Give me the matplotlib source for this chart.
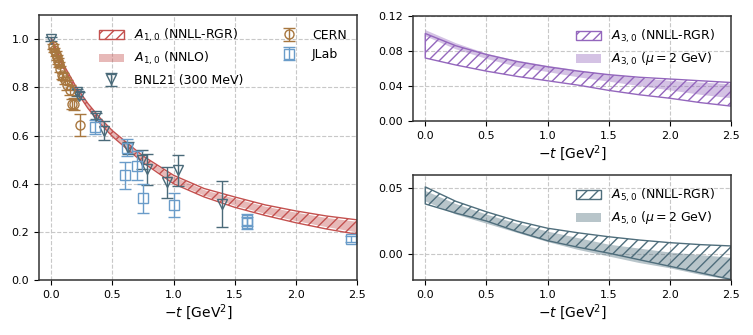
import numpy as np
import matplotlib
matplotlib.use("Agg")
import matplotlib.pyplot as plt

plt.rcParams['font.family'] = ['DejaVu Sans']
plt.rcParams['font.size'] = 8
plt.rcParams['hatch.linewidth'] = 1.0

# ---- band data ----
t_left = [0.0, 0.1, 0.2, 0.3, 0.4, 0.5, 0.75, 1.0, 1.25, 1.5, 1.75, 2.0, 2.25, 2.5]
a10_rgr_hi = [1.005, 0.895, 0.805, 0.733, 0.672, 0.620, 0.515, 0.435, 0.380, 0.345, 0.312, 0.287, 0.266, 0.250]
a10_rgr_lo = [0.995, 0.880, 0.788, 0.713, 0.650, 0.596, 0.488, 0.400, 0.345, 0.302, 0.268, 0.238, 0.212, 0.190]
a10_nnlo_hi = [1.003, 0.893, 0.803, 0.730, 0.669, 0.617, 0.511, 0.430, 0.374, 0.338, 0.305, 0.280, 0.258, 0.242]
a10_nnlo_lo = [0.997, 0.882, 0.790, 0.716, 0.653, 0.599, 0.492, 0.405, 0.351, 0.309, 0.275, 0.245, 0.220, 0.198]

t_right = [0.0, 0.25, 0.5, 0.75, 1.0, 1.25, 1.5, 1.75, 2.0, 2.25, 2.5]
a30_rgr_hi = [0.100, 0.086, 0.076, 0.068, 0.062, 0.057, 0.053, 0.050, 0.048, 0.046, 0.044]
a30_rgr_lo = [0.072, 0.064, 0.057, 0.051, 0.046, 0.041, 0.035, 0.030, 0.026, 0.021, 0.017]
a30_mu_hi = [0.104, 0.089, 0.077, 0.069, 0.063, 0.058, 0.053, 0.049, 0.046, 0.044, 0.042]
a30_mu_lo = [0.097, 0.082, 0.071, 0.062, 0.056, 0.050, 0.045, 0.040, 0.035, 0.030, 0.026]

a50_rgr_hi = [0.051, 0.040, 0.032, 0.025, 0.0195, 0.016, 0.013, 0.0105, 0.0085, 0.007, 0.006]
a50_rgr_lo = [0.038, 0.031, 0.025, 0.017, 0.010, 0.005, 0.0005, -0.0045, -0.0095, -0.0145, -0.0195]
a50_mu_hi = [0.048, 0.038, 0.030, 0.023, 0.017, 0.012, 0.007, 0.004, 0.001, -0.001, -0.003]
a50_mu_lo = [0.040, 0.030, 0.023, 0.016, 0.009, 0.003, -0.002, -0.007, -0.011, -0.016, -0.020]

# ---- experimental / lattice points ----
cern_t = [0.015, 0.025, 0.035, 0.045, 0.055, 0.065, 0.075, 0.085, 0.10, 0.115, 0.13, 0.15, 0.17, 0.19, 0.235]
cern_y = [0.970, 0.955, 0.940, 0.925, 0.910, 0.895, 0.875, 0.850, 0.845, 0.830, 0.810, 0.790, 0.730, 0.730, 0.645]
cern_e = [0.010, 0.010, 0.010, 0.010, 0.012, 0.012, 0.012, 0.015, 0.015, 0.015, 0.020, 0.020, 0.020, 0.025, 0.045]

jlab_t = [0.36, 0.60, 0.62, 0.705, 0.75, 1.0, 1.6, 1.6, 2.45]
jlab_y = [0.635, 0.435, 0.550, 0.475, 0.340, 0.313, 0.250, 0.235, 0.170]
jlab_e = [0.030, 0.055, 0.035, 0.060, 0.060, 0.050, 0.025, 0.025, 0.012]

bnl_t = [0.0, 0.21, 0.225, 0.37, 0.43, 0.63, 0.74, 0.78, 0.95, 1.04, 1.40]
bnl_y = [1.000, 0.780, 0.765, 0.680, 0.620, 0.550, 0.500, 0.460, 0.405, 0.455, 0.315]
bnl_e = [0.008, 0.015, 0.015, 0.012, 0.040, 0.025, 0.040, 0.065, 0.065, 0.065, 0.095]

red = '#c4514f'
purple = '#9467bd'
slate = '#4f6e7c'
brown = '#a8773f'
blue = '#6a9cc9'
bnlc = '#4a6a79'

fig = plt.figure(figsize=(7.53, 3.35), dpi=100)
ax1 = fig.add_axes([0.0518, 0.164, 0.4223, 0.791])
ax2 = fig.add_axes([0.5485, 0.6388, 0.4223, 0.3134])
ax3 = fig.add_axes([0.5485, 0.164, 0.4223, 0.3134])

for ax in (ax1, ax2, ax3):
	ax.grid(True, ls='--', color='#c8c8c8', lw=0.8)
	ax.set_axisbelow(True)
	for s in ax.spines.values():
		s.set_color('#333333')
		s.set_linewidth(1.1)
	ax.set_xlim(-0.1, 2.5)
	ax.set_xticks([0.0, 0.5, 1.0, 1.5, 2.0, 2.5])
	ax.set_xlabel(r'$-t$ [GeV$^2$]', fontsize=10, labelpad=2)
	ax.tick_params(labelsize=8)

# left panel
h1 = ax1.fill_between(t_left, a10_rgr_lo, a10_rgr_hi, facecolor='none', edgecolor=red,
	hatch='///', lw=1.0, label=r'$A_{1,0}$ (NNLL-RGR)')
h2 = ax1.fill_between(t_left, a10_nnlo_lo, a10_nnlo_hi, facecolor=red, alpha=0.4, lw=0,
	label=r'$A_{1,0}$ (NNLO)')
ekw = dict(mfc='none', ms=6.5, capsize=4, elinewidth=1.0, mew=1.0, ls='none')
h3 = ax1.errorbar(bnl_t, bnl_y, yerr=bnl_e, fmt='v', color=bnlc, label='BNL21 (300 MeV)', **ekw)
h4 = ax1.errorbar(cern_t, cern_y, yerr=cern_e, fmt='o', color=brown, label='CERN', **ekw)
h5 = ax1.errorbar(jlab_t, jlab_y, yerr=jlab_e, fmt='s', color=blue, label='JLab', **ekw)
ax1.set_ylim(0, 1.1)
ax1.set_yticks([0.0, 0.2, 0.4, 0.6, 0.8, 1.0])
ax1.legend(handles=[h1, h2, h3, h4, h5], ncol=2, frameon=False, fontsize=9,
	loc='upper right', bbox_to_anchor=(1.003, 1.0), columnspacing=2.7)

# top right
ax2.fill_between(t_right, a30_rgr_lo, a30_rgr_hi, facecolor='none', edgecolor=purple,
	hatch='///', lw=1.0, label=r'$A_{3,0}$ (NNLL-RGR)')
ax2.fill_between(t_right, a30_mu_lo, a30_mu_hi, facecolor=purple, alpha=0.4, lw=0,
	label=r'$A_{3,0}$ ($\mu = 2$ GeV)')
ax2.set_ylim(0, 0.12)
ax2.set_yticks([0.0, 0.04, 0.08, 0.12])
ax2.set_yticklabels(['0.00', '0.04', '0.08', '0.12'])
ax2.legend(frameon=False, fontsize=9, loc='upper right', bbox_to_anchor=(0.985, 1.0))

# bottom right
ax3.fill_between(t_right, a50_rgr_lo, a50_rgr_hi, facecolor='none', edgecolor=slate,
	hatch='///', lw=1.0, label=r'$A_{5,0}$ (NNLL-RGR)')
ax3.fill_between(t_right, a50_mu_lo, a50_mu_hi, facecolor=slate, alpha=0.4, lw=0,
	label=r'$A_{5,0}$ ($\mu = 2$ GeV)')
ax3.set_ylim(-0.02, 0.06)
ax3.set_yticks([0.0, 0.05])
ax3.set_yticklabels(['0.00', '0.05'])
ax3.legend(frameon=False, fontsize=9, loc='upper right', bbox_to_anchor=(0.985, 1.0))

fig.savefig('out.png', dpi=100)
